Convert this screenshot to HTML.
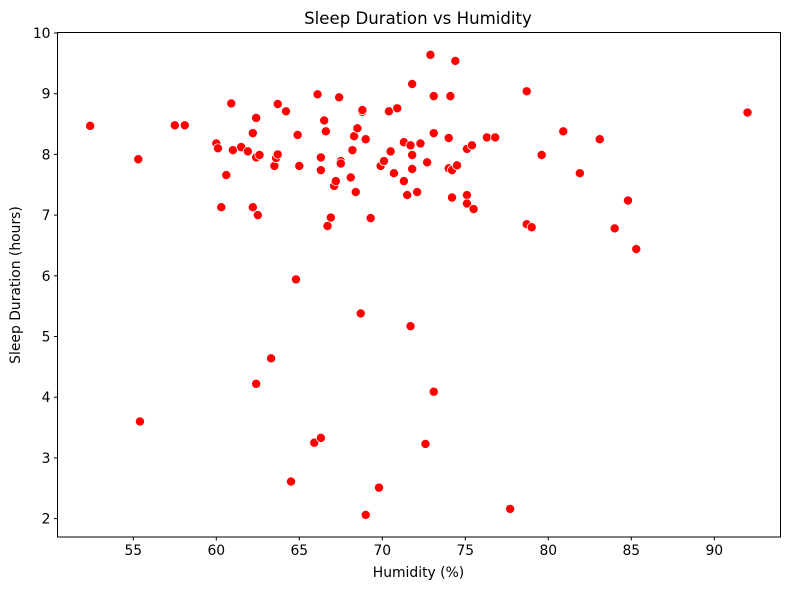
<!DOCTYPE html>
<html><head><meta charset="utf-8"><style>
body{margin:0;background:#fff;}
svg text{font-family:"DejaVu Sans","Liberation Sans",sans-serif;fill:#000;}
</style></head><body>
<svg id="chart" width="790" height="590" xmlns="http://www.w3.org/2000/svg">
<text x="418" y="24" font-size="16.6" text-anchor="middle">Sleep Duration vs Humidity</text>
<text x="418.5" y="577" font-size="13.9" text-anchor="middle">Humidity (%)</text>
<text x="20" y="285" font-size="13.9" text-anchor="middle" transform="rotate(-90 20 285)">Sleep Duration (hours)</text>
<g id="marks"></g>
<g id="axes"></g>
</svg>
<script>
const humidity=[52.4,55.3,55.4,57.5,58.1,60.0,60.1,60.3,60.6,60.9,61.0,61.5,61.9,62.2,62.2,62.4,62.4,62.6,62.5,62.4,63.3,63.5,63.6,63.7,63.7,64.2,64.5,64.8,64.9,65.0,66.1,65.9,66.3,66.3,66.3,66.5,66.6,66.7,66.9,67.1,67.2,67.4,67.5,67.5,68.1,68.2,68.3,68.4,68.5,68.7,68.8,68.8,69.0,69.0,69.3,69.8,69.9,70.1,70.5,70.4,70.7,70.9,71.3,71.3,71.5,71.7,71.7,71.8,71.8,71.8,72.1,72.3,72.6,72.7,72.9,73.1,73.1,73.1,74.0,74.0,74.1,74.2,74.2,74.4,74.5,75.1,75.1,75.1,75.4,75.5,76.3,76.8,77.7,78.7,78.7,79.0,79.6,80.9,81.9,83.1,84.0,84.8,85.3,92.0];
const sleep=[8.47,7.92,3.60,8.48,8.48,8.18,8.10,7.13,7.66,8.84,8.07,8.12,8.05,8.35,7.13,8.60,7.95,7.99,7.00,4.22,4.64,7.81,7.94,8.00,8.83,8.71,2.61,5.94,8.32,7.81,8.99,3.25,3.33,7.95,7.74,8.56,8.38,6.82,6.96,7.48,7.56,8.94,7.89,7.85,7.62,8.07,8.30,7.38,8.43,5.38,8.70,8.73,8.25,2.06,6.95,2.51,7.81,7.89,8.05,8.71,7.69,8.76,7.56,8.20,7.33,8.15,5.17,7.99,7.76,9.16,7.38,8.18,3.23,7.87,9.64,8.96,8.35,4.09,8.27,7.77,8.96,7.29,7.74,9.54,7.82,8.09,7.33,7.19,8.15,7.10,8.28,8.28,2.16,9.04,6.85,6.80,7.99,8.38,7.69,8.25,6.78,7.24,6.44,8.69];
const xTicks=[55,60,65,70,75,80,85,90];
const yTicks=[2,3,4,5,6,7,8,9,10];
const NS="http://www.w3.org/2000/svg";
const L=57.5,R=780.5,T=32.5,B=537;
const xs=v=>133.3+(v-55)*16.6;
const ys=v=>33+(10-v)*60.7;
const marks=document.getElementById('marks');
for(let i=0;i<humidity.length;i++){
  const c=document.createElementNS(NS,'circle');
  c.setAttribute('cx',xs(humidity[i]));c.setAttribute('cy',ys(sleep[i]));
  c.setAttribute('r',4.6);c.setAttribute('fill','#ff0000');c.setAttribute('stroke','#fff');c.setAttribute('stroke-width',0.8);
  
  
  marks.appendChild(c);
}
const ax=document.getElementById('axes');
const fr=document.createElementNS(NS,'rect');
fr.setAttribute('x',L);fr.setAttribute('y',T);fr.setAttribute('width',R-L);fr.setAttribute('height',B-T);
fr.setAttribute('fill','none');fr.setAttribute('stroke','#000');fr.setAttribute('stroke-width',1);


ax.appendChild(fr);
xTicks.forEach(t=>{
  const x=xs(t);
  const l=document.createElementNS(NS,'line');
  l.setAttribute('x1',x);l.setAttribute('x2',x);l.setAttribute('y1',B);l.setAttribute('y2',B+3.5);l.setAttribute('stroke','#000');
  
  
  ax.appendChild(l);
  const tx=document.createElementNS(NS,'text');
  tx.setAttribute('x',x);tx.setAttribute('y',B+18);tx.setAttribute('font-size','13.9');tx.setAttribute('text-anchor','middle');
  tx.textContent=t;
  
  
  ax.appendChild(tx);
});
yTicks.forEach(t=>{
  const y=ys(t);
  const l=document.createElementNS(NS,'line');
  l.setAttribute('x1',L-3.5);l.setAttribute('x2',L);l.setAttribute('y1',y);l.setAttribute('y2',y);l.setAttribute('stroke','#000');
  
  
  ax.appendChild(l);
  const tx=document.createElementNS(NS,'text');
  tx.setAttribute('x',L-7);tx.setAttribute('y',y+5);tx.setAttribute('font-size','13.9');tx.setAttribute('text-anchor','end');
  tx.textContent=t;
  
  
  ax.appendChild(tx);
});
</script>
</body></html>
